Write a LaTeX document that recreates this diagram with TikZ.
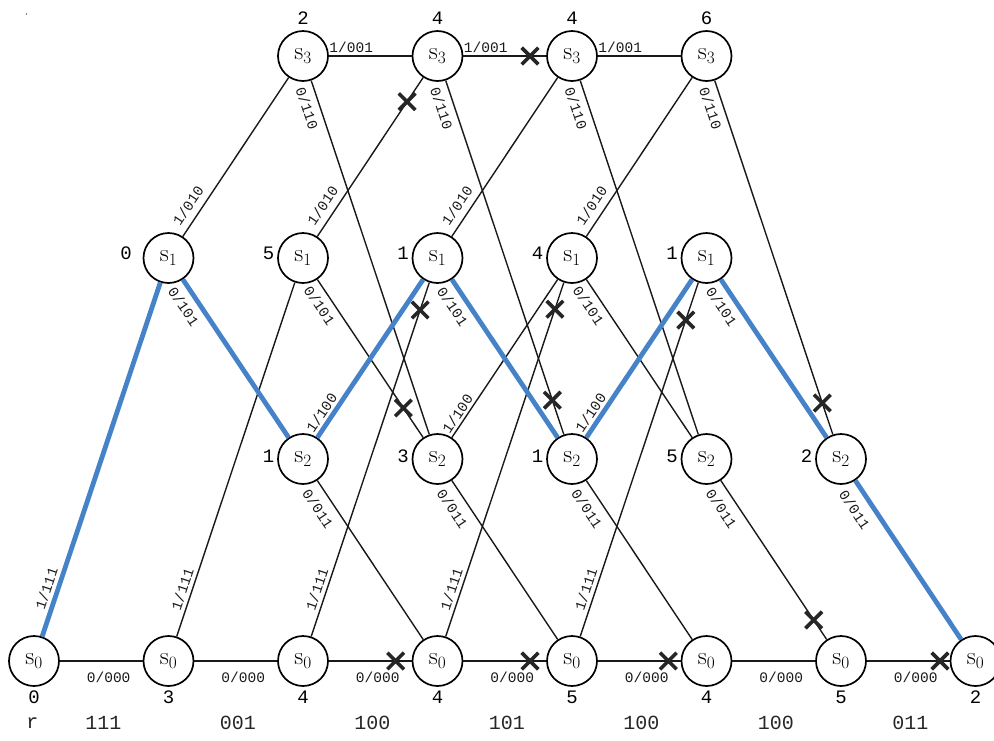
\documentclass[tikz,border=0pt]{standalone}
\usepackage{fontspec}
\setmonofont{Liberation Mono}
\usetikzlibrary{shapes.misc,calc}
\definecolor{pathblue}{RGB}{70,130,200}
\begin{document}
\begin{tikzpicture}[x=1pt,y=-1pt,
  st/.style={circle, draw, line width=1.7pt, minimum size=50pt, inner sep=0pt, fill=white, font=\fontsize{25}{25}\selectfont},
  ed/.style={line width=1.4pt, draw=black!90},
  bl/.style={line width=4.8pt, draw=pathblue},
  lab/.style={font=\ttfamily\fontsize{14.5}{14.5}\selectfont, inner sep=0pt, text height=9.5pt, text depth=0pt, sloped, text=black!90},
  met/.style={font=\ttfamily\fontsize{19}{19}\selectfont, inner sep=0pt, text=black},
  bot/.style={font=\ttfamily\fontsize{20}{20}\selectfont, inner sep=0pt, text=black!85},
  xm/.style={cross out, draw=black!85, line width=3.6pt, minimum size=13pt, inner sep=0pt},
  l000/.style={lab, pos=0.59, below=11pt},
  l111/.style={lab, pos=0.125, above=3.7pt},
  l010/.style={lab, pos=0.15, above=7pt},
  l110/.style={lab, pos=0.067, below=7.5pt},
  l101/.style={lab, pos=0.12, below=7.6pt},
  l100/.style={lab, pos=0.12, above=2.7pt},
  l011/.style={lab, pos=0.125, below=10pt},
  l001/.style={lab, pos=0.27, above=3.2pt}
]
\useasboundingbox (0,0) rectangle (994,740);
\fill[black] (26.5,14) circle (0.7);

% s0 row
\node[st] (a0) at (34,661) {\(\mathrm{s}_0\)};
\node[st] (a1) at (168.5,661) {\(\mathrm{s}_0\)};
\node[st] (a2) at (303,661) {\(\mathrm{s}_0\)};
\node[st] (a3) at (437.5,661) {\(\mathrm{s}_0\)};
\node[st] (a4) at (572,661) {\(\mathrm{s}_0\)};
\node[st] (a5) at (706.5,661) {\(\mathrm{s}_0\)};
\node[st] (a6) at (841,661) {\(\mathrm{s}_0\)};
\node[st] (a7) at (975.5,661) {\(\mathrm{s}_0\)};
% s1 row
\node[st] (b1) at (168.5,258) {\(\mathrm{s}_1\)};
\node[st] (b2) at (303,258) {\(\mathrm{s}_1\)};
\node[st] (b3) at (437.5,258) {\(\mathrm{s}_1\)};
\node[st] (b4) at (572,258) {\(\mathrm{s}_1\)};
\node[st] (b5) at (706.5,258) {\(\mathrm{s}_1\)};
% s2 row
\node[st] (c2) at (303,459) {\(\mathrm{s}_2\)};
\node[st] (c3) at (437.5,459) {\(\mathrm{s}_2\)};
\node[st] (c4) at (572,459) {\(\mathrm{s}_2\)};
\node[st] (c5) at (706.5,459) {\(\mathrm{s}_2\)};
\node[st] (c6) at (841,459) {\(\mathrm{s}_2\)};
% s3 row
\node[st] (d2) at (303,56) {\(\mathrm{s}_3\)};
\node[st] (d3) at (437.5,56) {\(\mathrm{s}_3\)};
\node[st] (d4) at (572,56) {\(\mathrm{s}_3\)};
\node[st] (d5) at (706.5,56) {\(\mathrm{s}_3\)};

% black edges
\draw[ed] (a0) -- node[l000]{0/000} (a1);
\draw[ed] (a1) -- node[l000]{0/000} (a2);
\draw[ed] (a2) -- node[l000]{0/000} (a3);
\draw[ed] (a3) -- node[l000]{0/000} (a4);
\draw[ed] (a4) -- node[l000]{0/000} (a5);
\draw[ed] (a5) -- node[l000]{0/000} (a6);
\draw[ed] (a6) -- node[l000]{0/000} (a7);

\draw[ed] (a1) -- node[l111]{1/111} (b2);
\draw[ed] (a2) -- node[l111]{1/111} (b3);
\draw[ed] (a3) -- node[l111]{1/111} (b4);
\draw[ed] (a4) -- node[l111]{1/111} (b5);

\draw[ed] (b2) -- node[l101]{0/101} (c3);
\draw[ed] (b4) -- node[l101]{0/101} (c5);

\draw[ed] (b1) -- node[l010]{1/010} (d2);
\draw[ed] (b2) -- node[l010]{1/010} (d3);
\draw[ed] (b3) -- node[l010]{1/010} (d4);
\draw[ed] (b4) -- node[l010]{1/010} (d5);

\draw[ed] (c2) -- node[l011]{0/011} (a3);
\draw[ed] (c3) -- node[l011]{0/011} (a4);
\draw[ed] (c4) -- node[l011]{0/011} (a5);
\draw[ed] (c5) -- node[l011]{0/011} (a6);

\draw[ed] (c3) -- node[l100]{1/100} (b4);

\draw[ed] (d2) -- node[l001]{1/001} (d3);
\draw[ed] (d3) -- node[l001]{1/001} (d4);
\draw[ed] (d4) -- node[l001]{1/001} (d5);

\draw[ed] (d2) -- node[l110]{0/110} (c3);
\draw[ed] (d3) -- node[l110]{0/110} (c4);
\draw[ed] (d4) -- node[l110]{0/110} (c5);
\draw[ed] (d5) -- node[l110]{0/110} (c6);

% survivor path
\draw[bl] (a0) -- node[l111]{1/111} (b1);
\draw[bl] (b1) -- node[l101]{0/101} (c2);
\draw[bl] (c2) -- node[l100]{1/100} (b3);
\draw[bl] (b3) -- node[l101]{0/101} (c4);
\draw[bl] (c4) -- node[l100]{1/100} (b5);
\draw[bl] (b5) -- node[l101]{0/101} (c6);
\draw[bl] (c6) -- node[l011]{0/011} (a7);

% crosses
\node[xm] (x1) at ($(b2)!0.774!(d3)$) {};
\node[xm] (x2) at ($(d3)!0.688!(d4)$) {};
\node[xm] (x3) at ($(a2)!0.871!(b3)$) {};
\node[xm] (x4) at ($(b2)!0.746!(c3)$) {};
\node[xm] (x5) at ($(a3)!0.873!(b4)$) {};
\node[xm] (x6) at ($(d3)!0.854!(c4)$) {};
\node[xm] (x7) at ($(a4)!0.846!(b5)$) {};
\node[xm] (x8) at ($(d5)!0.861!(c6)$) {};
\node[xm] (x9) at ($(c5)!0.797!(a6)$) {};
\node[xm] (x10) at ($(a2)!0.689!(a3)$) {};
\node[xm] (x11) at ($(a3)!0.688!(a4)$) {};
\node[xm] (x12) at ($(a4)!0.716!(a5)$) {};
\node[xm] (x13) at ($(a6)!0.736!(a7)$) {};

% metrics
\node[met] (md2) at ($(d2)+(0,-38)$) {2};
\node[met] (md3) at ($(d3)+(0,-38)$) {4};
\node[met] (md4) at ($(d4)+(0,-38)$) {4};
\node[met] (md5) at ($(d5)+(0,-38)$) {6};

\node[met] (mb1) at ($(b1)+(-42.5,-4.5)$) {0};
\node[met] (mb2) at ($(b2)+(-34.5,-4.5)$) {5};
\node[met] (mb3) at ($(b3)+(-34.5,-4.5)$) {1};
\node[met] (mb4) at ($(b4)+(-34.5,-4.5)$) {4};
\node[met] (mb5) at ($(b5)+(-34.5,-4.5)$) {1};

\node[met] (mc2) at ($(c2)+(-34.5,-3)$) {1};
\node[met] (mc3) at ($(c3)+(-34.5,-3)$) {3};
\node[met] (mc4) at ($(c4)+(-34.5,-3)$) {1};
\node[met] (mc5) at ($(c5)+(-34.5,-3)$) {5};
\node[met] (mc6) at ($(c6)+(-34.5,-3)$) {2};

\node[met] (ma0) at ($(a0)+(0,36)$) {0};
\node[met] (ma1) at ($(a1)+(0,36)$) {3};
\node[met] (ma2) at ($(a2)+(0,36)$) {4};
\node[met] (ma3) at ($(a3)+(0,36)$) {4};
\node[met] (ma4) at ($(a4)+(0,36)$) {5};
\node[met] (ma5) at ($(a5)+(0,36)$) {4};
\node[met] (ma6) at ($(a6)+(0,36)$) {5};
\node[met] (ma7) at ($(a7)+(0,36)$) {2};

% received sequence
\node[bot] (r0) at (32.5,723) {r};
\node[bot] (r1) at (103.3,723) {111};
\node[bot] (r2) at (237.8,723) {001};
\node[bot] (r3) at (372.3,723) {100};
\node[bot] (r4) at (506.8,723) {101};
\node[bot] (r5) at (641.3,723) {100};
\node[bot] (r6) at (775.8,723) {100};
\node[bot] (r7) at (910.3,723) {011};
\end{tikzpicture}
\end{document}
